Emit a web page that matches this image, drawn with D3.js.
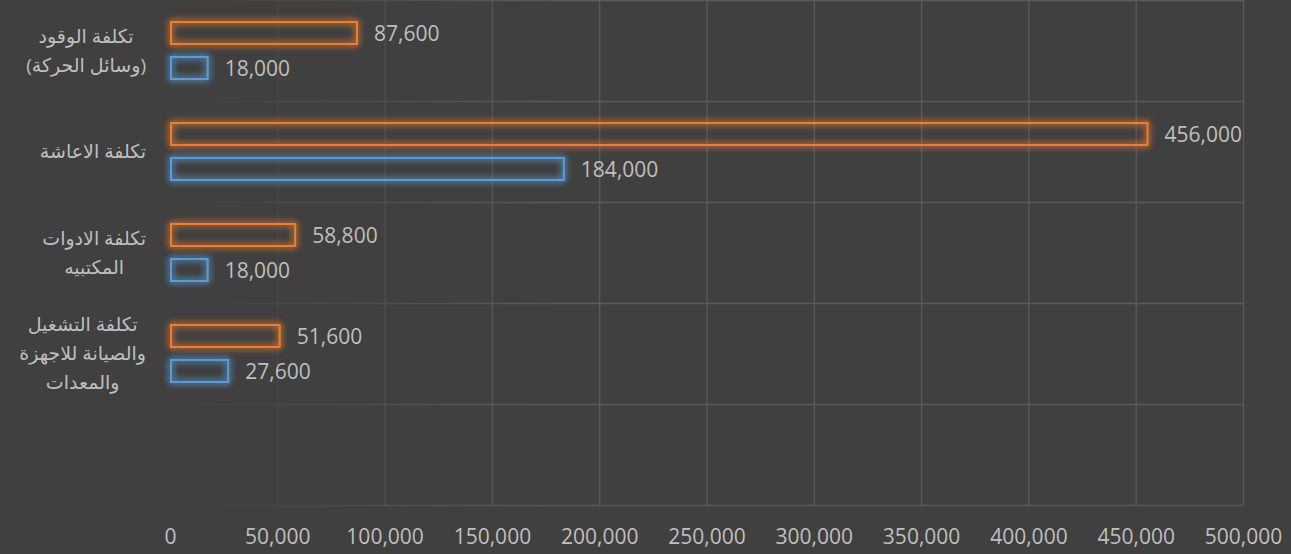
<!DOCTYPE html>
<html lang="ar">
<head>
    <meta charset="UTF-8">
    <title>Chart</title>
    <style>
        body{
            margin:0;
            background:#404040;
        }
        text{
            font-family:"Open Sans","DejaVu Sans",sans-serif;
        }
    </style>
    <script src="https://cdn.jsdelivr.net/npm/d3@7"></script>
</head>
<body>
<div id="container"></div>
</body>
<script>
    // data
    var categories = ['c1', 'c2', 'c3', 'c4', 'c5'];
    var categoryLines = [
        ['تكلفة الوقود', '(وسائل الحركة)'],
        ['تكلفة الاعاشة'],
        ['تكلفة الادوات', 'المكتبيه'],
        ['تكلفة التشغيل', 'والصيانة للاجهزة', 'والمعدات'],
        []
    ];
    var orangeValues = [87600, 456000, 58800, 51600];
    var blueValues = [18000, 184000, 18000, 27600];
    var xTicks = [0, 50000, 100000, 150000, 200000, 250000, 300000, 350000, 400000, 450000, 500000];

    var w = 1291, h = 554, plotLeft = 170, plotRight = 1243, plotTop = 0, plotBottom = 505;
    var textColor = '#bfbfbf';

    var svg = d3.select('#container').append('svg').attr('width', w).attr('height', h);
    var defs = svg.append('defs');

    var grad = defs.append('linearGradient').attr('id', 'gridGrad')
        .attr('gradientUnits', 'userSpaceOnUse')
        .attr('x1', plotLeft).attr('x2', 560).attr('y1', 0).attr('y2', 0);
    grad.append('stop').attr('offset', 0).attr('stop-color', '#5a5a5a').attr('stop-opacity', 0);
    grad.append('stop').attr('offset', 1).attr('stop-color', '#5a5a5a').attr('stop-opacity', 1);

    var glow = defs.append('filter').attr('id', 'glow')
        .attr('x', '-20%').attr('y', '-80%').attr('width', '140%').attr('height', '260%');
    glow.append('feGaussianBlur').attr('in', 'SourceGraphic').attr('stdDeviation', 3.5).attr('result', 'b');
    var merge = glow.append('feMerge');
    merge.append('feMergeNode').attr('in', 'b');
    merge.append('feMergeNode').attr('in', 'b');
    merge.append('feMergeNode').attr('in', 'SourceGraphic');

    var xScale = d3.scaleLinear().domain([0, 500000]).range([plotLeft, plotRight]);
    var yScale = d3.scaleBand().domain(categories).range([plotTop, plotBottom]);
    var ySub = d3.scaleBand().domain(['orange', 'blue']).range([0, yScale.bandwidth()])
        .paddingInner(0.314).paddingOuter(0.6);

    // grid
    var grid = svg.append('g');
    grid.selectAll('.vg').data(xTicks.slice(1)).enter().append('line')
        .attr('x1', function (d) {return xScale(d) + 0.5})
        .attr('x2', function (d) {return xScale(d) + 0.5})
        .attr('y1', plotTop).attr('y2', plotBottom)
        .attr('stroke', 'url(#gridGrad)').attr('stroke-width', 1.3);
    var hLines = categories.map(function (c) {return yScale(c)}).concat([plotBottom]);
    grid.selectAll('.hg').data(hLines).enter().append('line')
        .attr('x1', plotLeft).attr('x2', plotRight + 1)
        .attr('y1', function (d) {return d + 0.5})
        .attr('y2', function (d) {return d + 0.5})
        .attr('stroke', 'url(#gridGrad)').attr('stroke-width', 1.3);

    // bars
    var series = [
        {key: 'orange', color: '#ed7d31', values: orangeValues},
        {key: 'blue', color: '#5b9bd5', values: blueValues}
    ];
    series.forEach(function (s) {
        var g = svg.append('g');
        g.selectAll('rect').data(s.values).enter().append('rect')
            .attr('x', xScale(0) + 1)
            .attr('y', function (d, i) {return yScale(categories[i]) + ySub(s.key) + 1})
            .attr('width', function (d) {return xScale(d) - xScale(0) - 2})
            .attr('height', ySub.bandwidth() - 2)
            .attr('fill', 'none')
            .attr('stroke', s.color)
            .attr('stroke-width', 2)
            .attr('filter', 'url(#glow)');
        g.selectAll('text').data(s.values).enter().append('text')
            .text(function (d) {return d3.format(',')(d)})
            .attr('x', function (d) {return xScale(d) + 16})
            .attr('y', function (d, i) {return yScale(categories[i]) + ySub(s.key) + ySub.bandwidth() / 2})
            .attr('dy', '0.36em')
            .attr('fill', textColor)
            .attr('font-size', '21px');
    });

    // category labels
    var lineH = 29;
    categoryLines.forEach(function (lines, i) {
        if (!lines.length) return;
        var g = svg.append('g');
        var cy = yScale(categories[i]) + yScale.bandwidth() / 2;
        var texts = g.selectAll('text').data(lines).enter().append('text')
            .text(function (d) {return d})
            .attr('direction', 'rtl')
            .attr('text-anchor', 'middle')
            .attr('y', function (d, j) {return cy + (j - (lines.length - 1) / 2) * lineH})
            .attr('dy', '0.35em')
            .attr('fill', textColor)
            .attr('font-size', '19px');
        var maxW = 0;
        texts.each(function () {maxW = Math.max(maxW, this.getComputedTextLength())});
        texts.attr('x', 146 - maxW / 2);
    });

    // x axis
    var xAxis = d3.axisBottom(xScale).tickValues(xTicks).tickSize(0).tickFormat(d3.format(','));
    var ax = svg.append('g').attr('transform', 'translate(0,' + 526 + ')').call(xAxis);
    ax.select('.domain').remove();
    ax.selectAll('text').attr('fill', textColor).attr('font-size', '21px')
        .attr('font-family', '"Open Sans","DejaVu Sans",sans-serif');
</script>
</html>
